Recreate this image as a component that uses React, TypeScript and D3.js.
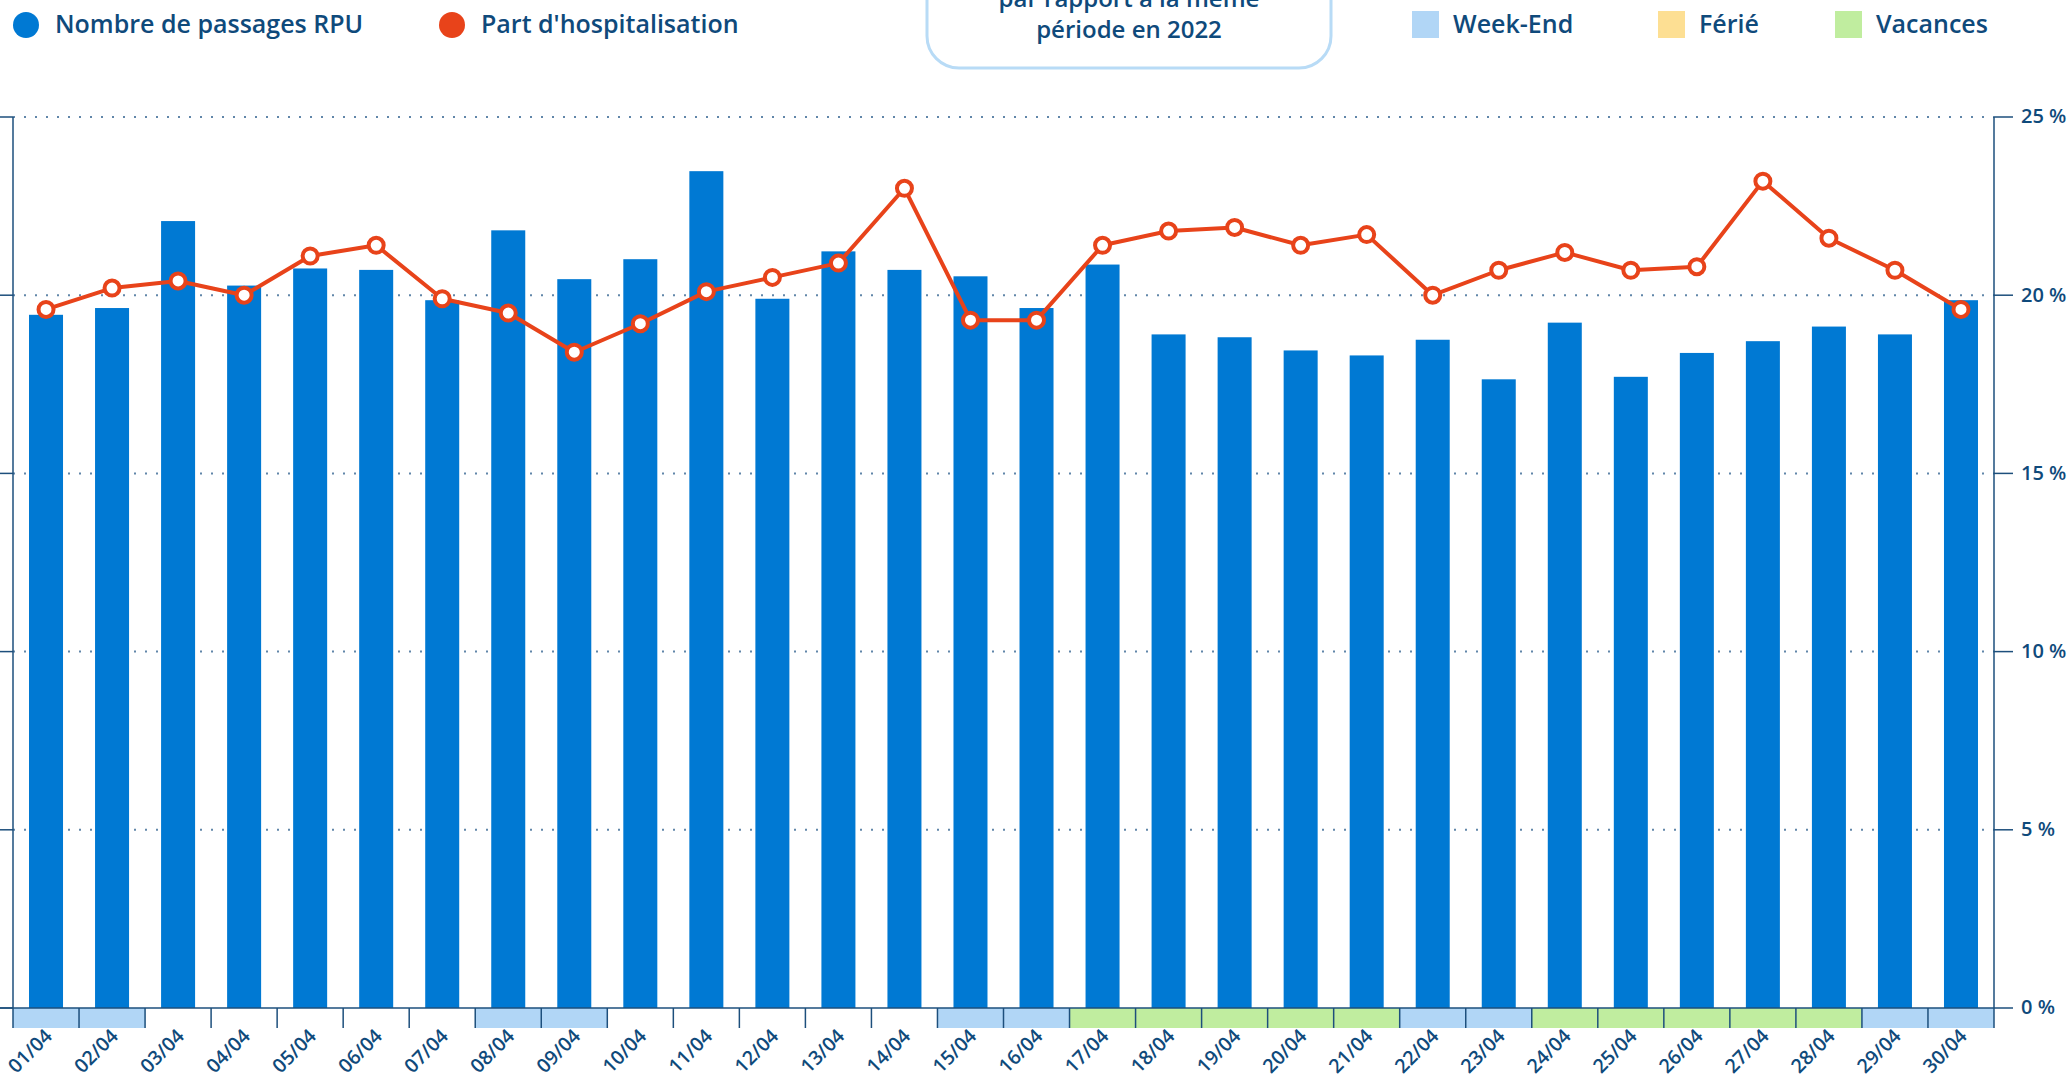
import React from 'react';
import * as d3 from 'd3';

// Données (avril 2023)
const days = [
  '01/04', '02/04', '03/04', '04/04', '05/04', '06/04', '07/04', '08/04', '09/04', '10/04',
  '11/04', '12/04', '13/04', '14/04', '15/04', '16/04', '17/04', '18/04', '19/04', '20/04',
  '21/04', '22/04', '23/04', '24/04', '25/04', '26/04', '27/04', '28/04', '29/04', '30/04',
];

// Nombre de passages RPU (axe gauche, libellés hors cadre)
const passages = [
  1945, 1964, 2208, 2027, 2075, 2071, 1986, 2182, 2045, 2101,
  2348, 1990, 2123, 2071, 2053, 1964, 2086, 1890, 1882, 1845,
  1831, 1875, 1764, 1923, 1771, 1838, 1871, 1912, 1890, 1986,
];

// Part d'hospitalisation (%)
const hospit = [
  19.6, 20.2, 20.4, 20.0, 21.1, 21.4, 19.9, 19.5, 18.4, 19.2,
  20.1, 20.5, 20.9, 23.0, 19.3, 19.3, 21.4, 21.8, 21.9, 21.4,
  21.7, 20.0, 20.7, 21.2, 20.7, 20.8, 23.2, 21.6, 20.7, 19.6,
];

// Type de jour : W = week-end, F = férié, V = vacances
const dayTypes = [
  'W', 'W', '', '', '', '', '', 'W', 'W', '',
  '', '', '', '', 'W', 'W', 'V', 'V', 'V', 'V',
  'V', 'W', 'W', 'V', 'V', 'V', 'V', 'V', 'W', 'W',
];

const pctTicks = [0, 5, 10, 15, 20, 25];
const leftMax = 2500;

const typeColors: Record<string, string> = { W: '#b1d6f6', F: '#fddf93', V: '#c0ed9f' };

const FONT = "'Open Sans', sans-serif";
const TEXT = '#0f4a7b';
const AXIS = '#1d4f7c';
const BAR = '#0079d3';
const LINE = '#e8431a';

const W = 2067;
const H = 1081;
const margin = { left: 13, right: 73, top: 117, bottom: 73 };

const App: React.FC = () => {
  const x = d3.scaleBand<string>().domain(days).range([margin.left, W - margin.right]).padding(0);
  const yPct = d3.scaleLinear().domain([0, 25]).range([H - margin.bottom, margin.top]);
  const yLeft = d3.scaleLinear().domain([0, leftMax]).range([H - margin.bottom, margin.top]);
  const bw = x.bandwidth();
  const barW = bw * 0.515;
  const cx = (d: string) => (x(d) as number) + bw / 2;
  const y0 = yPct(0);
  const xL = margin.left;
  const xR = W - margin.right;

  const line = d3.line<number>()
    .x((_, i) => cx(days[i]))
    .y(v => yPct(v));

  const legendLeft = [
    { label: 'Nombre de passages RPU', color: BAR, cx: 26, tx: 55 },
    { label: "Part d'hospitalisation", color: LINE, cx: 452, tx: 481 },
  ];
  const legendRight = [
    { label: 'Week-End', color: typeColors.W, x: 1412, tx: 1453 },
    { label: 'Férié', color: typeColors.F, x: 1658, tx: 1699 },
    { label: 'Vacances', color: typeColors.V, x: 1835, tx: 1876 },
  ];

  return (
    <svg width={W} height={H} style={{ position: 'absolute', left: 0, top: 0, display: 'block' }} fontFamily={FONT}>
      <rect width={W} height={H} fill="#fff" />

      {/* Légendes */}
      {legendLeft.map(l => (
        <g key={l.label}>
          <circle cx={l.cx} cy={25} r={13} fill={l.color} />
          <text x={l.tx} y={33} fontSize={25} fontWeight={600} fill={TEXT}>{l.label}</text>
        </g>
      ))}
      {legendRight.map(l => (
        <g key={l.label}>
          <rect x={l.x} y={11} width={27} height={27} fill={l.color} />
          <text x={l.tx} y={33} fontSize={25} fontWeight={600} fill={TEXT}>{l.label}</text>
        </g>
      ))}

      {/* Encadré central */}
      <rect x={927} y={-120} width={404} height={188} rx={32} fill="#fff" stroke="#b8dbf6" strokeWidth={3} />
      <text x={1129} y={7} textAnchor="middle" fontSize={24} fontWeight={600} fill={TEXT}>par rapport à la même</text>
      <text x={1129} y={38} textAnchor="middle" fontSize={24} fontWeight={600} fill={TEXT}>période en 2022</text>

      {/* Grille */}
      {pctTicks.filter(t => t > 0).map(t => (
        <line key={t} x1={xL} x2={xR} y1={yPct(t)} y2={yPct(t)} stroke="#6186a9" strokeWidth={2} strokeDasharray="2 9" />
      ))}

      {/* Barres */}
      {days.map((d, i) => (
        <rect key={d} x={cx(d) - barW / 2} y={yLeft(passages[i])} width={barW} height={y0 - yLeft(passages[i])} fill={BAR} />
      ))}

      {/* Bande des types de jour */}
      {days.map((d, i) => (
        dayTypes[i] ? <rect key={d} x={x(d)} y={y0} width={bw} height={20} fill={typeColors[dayTypes[i]]} /> : null
      ))}
      {days.concat(['end']).map((d, i) => {
        const xx = i < days.length ? (x(d) as number) : xR;
        return <line key={'t' + d} x1={xx} x2={xx} y1={y0} y2={y0 + 20} stroke={AXIS} strokeWidth={1.5} />;
      })}

      {/* Axes */}
      <line x1={xL} x2={xL} y1={margin.top} y2={y0} stroke={AXIS} strokeWidth={1.5} />
      <line x1={xR} x2={xR} y1={margin.top} y2={y0} stroke={AXIS} strokeWidth={1.5} />
      <line x1={0} x2={xR} y1={y0} y2={y0} stroke={AXIS} strokeWidth={1.5} />
      {pctTicks.map(t => (
        <g key={'r' + t}>
          <line x1={0} x2={xL} y1={yPct(t)} y2={yPct(t)} stroke={AXIS} strokeWidth={1.5} />
          <line x1={xR} x2={xR + 19} y1={yPct(t)} y2={yPct(t)} stroke={AXIS} strokeWidth={1.5} />
          <text x={2021} y={yPct(t)} dy="0.32em" fontSize={20} fontWeight={600} fill={TEXT}>{`${t} %`}</text>
        </g>
      ))}

      {/* Libellés des jours */}
      {days.map(d => (
        <text key={'l' + d} transform={`translate(${cx(d) - 1},${y0 + 21}) rotate(-45)`} textAnchor="end" dy="0.6em"
          fontSize={19.5} fontWeight={600} fill={TEXT}>{d}</text>
      ))}

      {/* Courbe */}
      <path d={line(hospit) || ''} fill="none" stroke={LINE} strokeWidth={4} strokeLinejoin="round" />
      {hospit.map((v, i) => (
        <circle key={'c' + i} cx={cx(days[i])} cy={yPct(v)} r={7.5} fill="#fff" stroke={LINE} strokeWidth={4} />
      ))}
    </svg>
  );
};

export default App;
